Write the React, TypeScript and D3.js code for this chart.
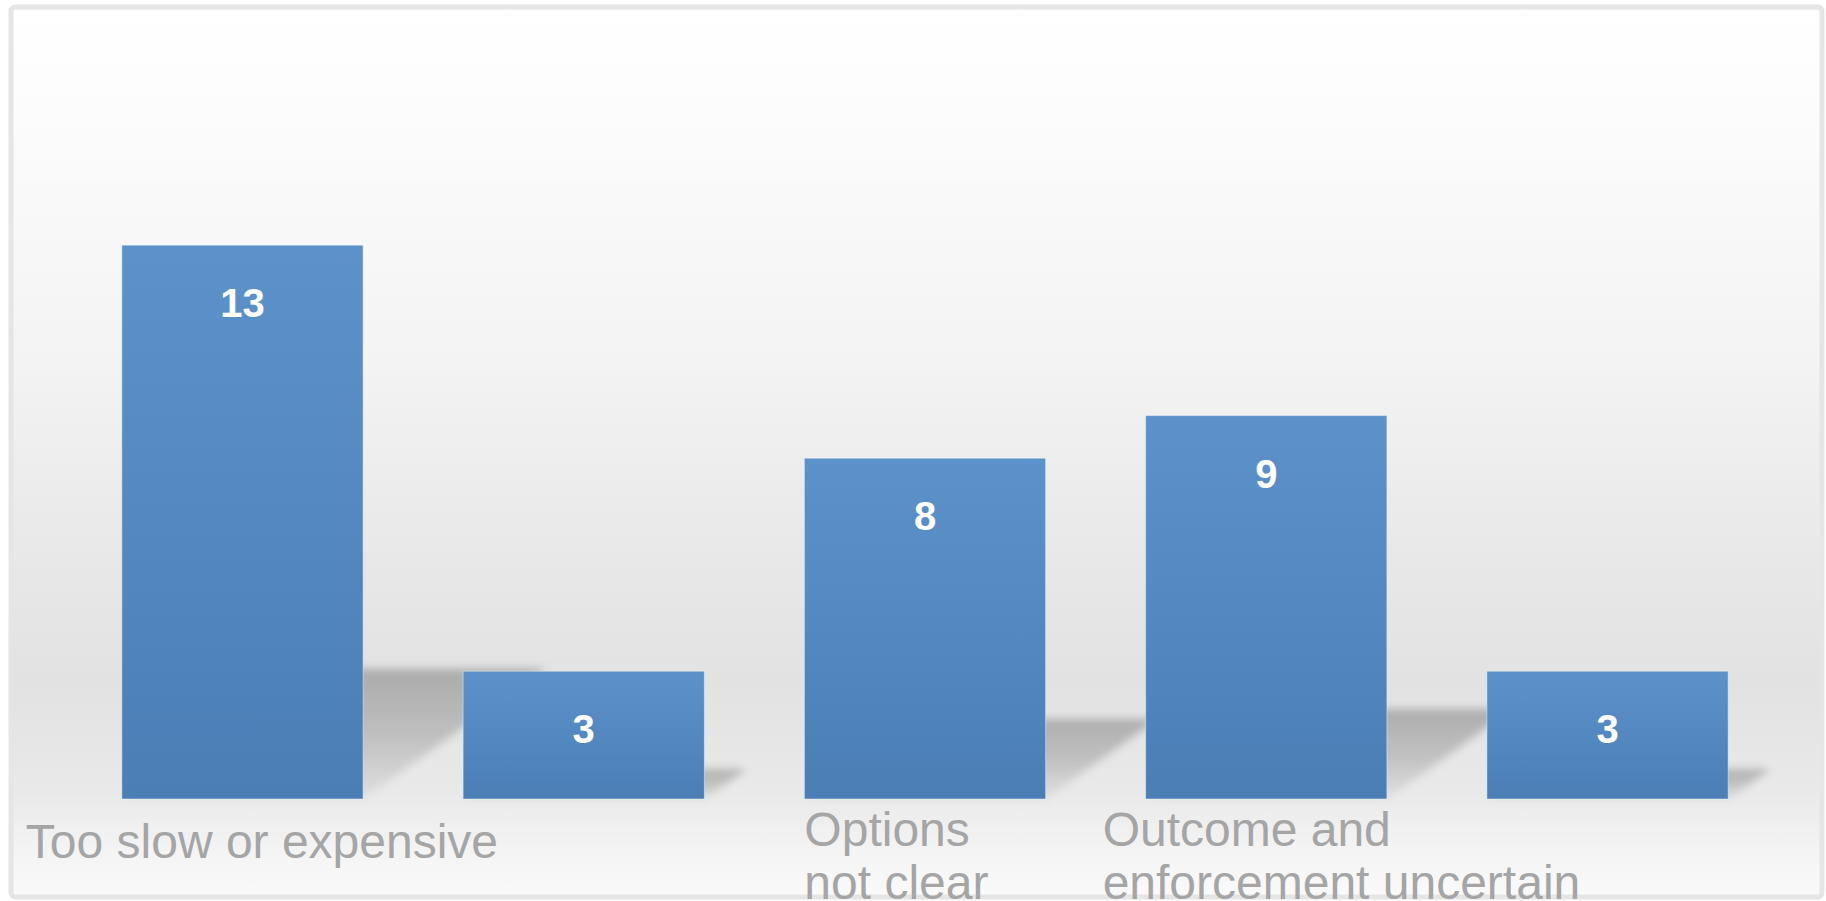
import React from "react";
import * as d3 from "d3";

const values = [13, 3, 8, 9, 3];
const labelLines: string[][] = [
  ["Too slow or expensive"],
  [],
  ["Options", "not clear"],
  ["Outcome and", "enforcement uncertain"],
  [],
];
// horizontal offset of each label block from its bar's left edge, and first-line baseline
const labelDx = [-96, 0, 0, -43, 0];
const labelBaseline = [858, 0, 846, 846, 0];

const W = 1826;
const H = 901;
const BASE = 799;

export default function App() {
  const x = d3
    .scaleBand<number>()
    .domain(d3.range(values.length))
    .range([72, 1778])
    .paddingInner(0.293)
    .paddingOuter(0.146);
  const y = d3.scaleLinear().domain([0, 14]).range([BASE, BASE - 14 * 42.6]);
  const bw = x.bandwidth();
  const k = 0.235;
  const s = 1.4;

  return (
    <svg
      width={W}
      height={H}
      style={{ position: "absolute", left: 0, top: 0, display: "block" }}
      fontFamily="'Liberation Sans', Arial, sans-serif"
    >
      <defs>
        <linearGradient id="bgGrad" x1="0" y1="10" x2="0" y2="897" gradientUnits="userSpaceOnUse">
          <stop offset="0" stopColor="#ffffff" />
          <stop offset="0.12" stopColor="#fcfcfc" />
          <stop offset="0.4" stopColor="#f3f3f3" />
          <stop offset="0.62" stopColor="#e8e8e8" />
          <stop offset="0.76" stopColor="#e2e2e2" />
          <stop offset="0.88" stopColor="#e9e9e9" />
          <stop offset="0.95" stopColor="#f4f4f4" />
          <stop offset="1" stopColor="#fafafa" />
        </linearGradient>
        <linearGradient id="barGrad" x1="0" y1="0" x2="0" y2="1">
          <stop offset="0" stopColor="#5c92ca" />
          <stop offset="0.5" stopColor="#5388c1" />
          <stop offset="1" stopColor="#4a7eb5" />
        </linearGradient>
        <linearGradient id="shGrad" x1="0" y1="0" x2="0" y2="1">
          <stop offset="0" stopColor="#000" stopOpacity={0.24} />
          <stop offset="0.5" stopColor="#000" stopOpacity={0.17} />
          <stop offset="1" stopColor="#000" stopOpacity={0.04} />
        </linearGradient>
        <filter id="blur" x="-20%" y="-20%" width="140%" height="140%">
          <feGaussianBlur stdDeviation="4" />
        </filter>
      </defs>

      <rect x={0} y={0} width={W} height={H} fill="#ffffff" />
      <rect
        x={11}
        y={7}
        width={1811}
        height={890}
        rx={4}
        fill="url(#bgGrad)"
        stroke="#e5e5e5"
        strokeWidth={5}
      />

      {/* perspective shadows */}
      <g filter="url(#blur)">
        {values.map((v, i) => {
          const x0 = x(i)!;
          const x1 = x0 + bw;
          const h = BASE - y(v);
          const t = BASE - k * h;
          const dx = s * k * h;
          const pts = [
            [x0, BASE],
            [x1, BASE],
            [x1 + dx, t],
            [x0 + dx, t],
          ];
          return (
            <polygon
              key={i}
              points={pts.map((p) => p.join(",")).join(" ")}
              fill="url(#shGrad)"
            />
          );
        })}
      </g>

      {/* bars */}
      {values.map((v, i) => (
        <rect
          key={i}
          x={x(i)!}
          y={y(v)}
          width={bw}
          height={BASE - y(v)}
          fill="url(#barGrad)"
          stroke="#eef4fa"
          strokeOpacity={0.5}
          strokeWidth={1}
        />
      ))}

      {/* value labels */}
      {values.map((v, i) => (
        <text
          key={i}
          x={x(i)! + bw / 2}
          y={y(v) + 72}
          textAnchor="middle"
          fill="#ffffff"
          fontWeight="bold"
          fontSize={40}
        >
          {v}
        </text>
      ))}

      {/* category labels */}
      {labelLines.map((lines, i) =>
        lines.map((ln, j) => (
          <text
            key={`${i}-${j}`}
            x={x(i)! + labelDx[i]}
            y={labelBaseline[i] + j * 53}
            fill="#a5a5a5"
            fontSize={48}
          >
            {ln}
          </text>
        ))
      )}
    </svg>
  );
}
